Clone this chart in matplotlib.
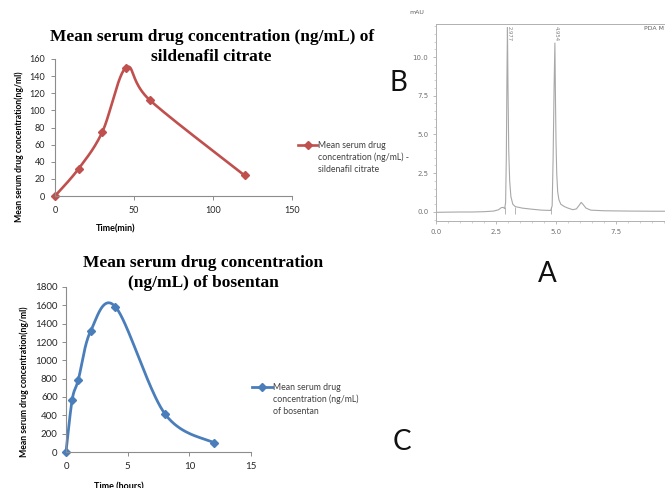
import numpy as np
import matplotlib
matplotlib.use("Agg")
import matplotlib.pyplot as plt
from matplotlib.lines import Line2D
from matplotlib.ticker import MultipleLocator

# ---------------- data ----------------
sil_time = [0, 15, 30, 45, 60, 120]
sil_conc = [0, 32, 75, 150, 112, 24]
sil_xticks = [0, 50, 100, 150]
sil_yticks = [0, 20, 40, 60, 80, 100, 120, 140, 160]

bos_time = [0, 0.5, 1, 2, 4, 8, 12]
bos_conc = [0, 570, 790, 1320, 1585, 420, 100]
bos_xticks = [0, 5, 10, 15]
bos_yticks = [0, 200, 400, 600, 800, 1000, 1200, 1400, 1600, 1800]

chrom_time = [0.0, 0.5, 1.0, 1.5, 2.0, 2.4, 2.6, 2.72, 2.8, 2.86, 2.9, 2.93, 2.955, 2.977,
              3.0, 3.03, 3.07, 3.12, 3.2, 3.3, 3.6, 4.0, 4.4, 4.78, 4.84, 4.88, 4.92, 4.954,
              4.98, 5.0, 5.03, 5.07, 5.12, 5.2, 5.35, 5.5, 5.7, 5.85, 5.95, 6.05, 6.12, 6.25,
              6.45, 7.0, 8.0, 9.0, 10.0, 11.0]
chrom_signal = [-0.02, -0.01, 0.0, 0.0, 0.02, 0.06, 0.14, 0.28, 0.3, 0.22, 0.6, 3.5, 8.5, 11.9,
                8.0, 4.0, 2.0, 1.0, 0.5, 0.35, 0.25, 0.18, 0.12, 0.1, 0.4, 3.5, 8.0, 10.9,
                7.0, 4.6, 2.5, 1.3, 0.8, 0.5, 0.35, 0.25, 0.15, 0.2, 0.4, 0.62, 0.5, 0.25,
                0.12, 0.08, 0.06, 0.05, 0.05, 0.05]
chrom_peaks = [2.977, 4.954]
chrom_peak_labels = ["2.977", "4.954"]
chrom_drops = [2.86, 3.3, 4.8]
chrom_xticks = [0.0, 2.5, 5.0, 7.5]
chrom_yticks = [0.0, 2.5, 5.0, 7.5, 10.0]

W, H = 665, 488
fig = plt.figure(figsize=(W / 100, H / 100), dpi=100)
fig.patch.set_facecolor("white")

SANS = ["Lato", "DejaVu Sans"]
SERIF = ["Liberation Serif", "DejaVu Serif"]
NARROW = ["Liberation Sans Narrow", "DejaVu Sans"]


def px_axes(l, t, r, b):
    return fig.add_axes([l / W, 1 - b / H, (r - l) / W, (b - t) / H])


def fx(x):
    return x / W


def fy(y):
    return 1 - y / H


def smooth(xs, ys, sx, sy, n=40):
    P = np.column_stack([np.asarray(xs, float) * sx, np.asarray(ys, float) * sy])
    P = np.vstack([P[0], P, P[-1]])
    t = np.linspace(0, 1, n)[:, None]
    out = []
    for i in range(1, len(P) - 2):
        p0, p1, p2, p3 = P[i - 1], P[i], P[i + 1], P[i + 2]
        c1 = p1 + (p2 - p0) / 6
        c2 = p2 - (p3 - p1) / 6
        seg = (1 - t) ** 3 * p1 + 3 * (1 - t) ** 2 * t * c1 + 3 * (1 - t) * t ** 2 * c2 + t ** 3 * p2
        out.append(seg)
    S = np.vstack(out)
    return S[:, 0] / sx, S[:, 1] / sy


def style_excel(ax, fs):
    for s in ["top", "right"]:
        ax.spines[s].set_visible(False)
    for s in ["left", "bottom"]:
        ax.spines[s].set_color("#8c8c8c")
        ax.spines[s].set_linewidth(0.8)
    ax.tick_params(axis="both", length=3, width=0.7, color="#8c8c8c", labelsize=fs,
                   labelcolor="#262626", direction="out")
    for lab in ax.get_xticklabels() + ax.get_yticklabels():
        lab.set_family(SANS)
    ax.set_facecolor("none")


# ---------------- sildenafil chart ----------------
ax1 = px_axes(55, 59, 292, 196)
x, y = smooth(sil_time, sil_conc, 237 / 150, 137 / 160)
red = "#c0504d"
ax1.plot(x, y, color=red, lw=1.9, solid_capstyle="round", clip_on=False)
ax1.plot(sil_time, sil_conc, ls="none", marker="D", ms=4.2, color=red, clip_on=False)
ax1.set_xlim(0, 150)
ax1.set_ylim(0, 160)
ax1.set_xticks(sil_xticks)
ax1.set_yticks(sil_yticks)
style_excel(ax1, 6.5)
ax1.tick_params(axis="x", pad=4)
ax1.tick_params(axis="y", pad=4)
fig.text(fx(212), fy(37), "Mean serum drug concentration (ng/mL) of", ha="center", va="center",
         family=SERIF, weight="bold", fontsize=12.5)
fig.text(fx(211), fy(57), "sildenafil citrate", ha="center", va="center",
         family=SERIF, weight="bold", fontsize=12.5)
fig.text(fx(19), fy(147), "Mean serum drug concentration(ng/ml)", rotation=90, ha="center",
         va="center", family=SANS, weight="bold", fontsize=6.2)
fig.text(fx(116), fy(229), "Time(min)", ha="center", va="center", family=SANS,
         weight="bold", fontsize=6.5)
fig.add_artist(Line2D([fx(298), fx(317)], [fy(145), fy(145)], color=red, lw=1.9,
                      transform=fig.transFigure))
fig.add_artist(Line2D([fx(307.5)], [fy(145)], color=red, marker="D", ms=4,
                      transform=fig.transFigure))
for i, s in enumerate(["Mean serum drug", "concentration (ng/mL) -", "sildenafil citrate"]):
    fig.text(fx(318), fy(145 + 12.3 * i), s, ha="left", va="center", family=SANS,
             fontsize=6.3, color="#404040")

# ---------------- bosentan chart ----------------
ax2 = px_axes(66, 287, 251, 452)
blue = "#4a7ebb"
x, y = smooth(bos_time, bos_conc, 185 / 15, 165 / 1800)
ax2.plot(x, y, color=blue, lw=2.0, solid_capstyle="round", clip_on=False)
ax2.plot(bos_time, bos_conc, ls="none", marker="D", ms=4.2, color=blue, clip_on=False)
ax2.set_xlim(0, 15)
ax2.set_ylim(0, 1800)
ax2.set_xticks(bos_xticks)
ax2.set_yticks(bos_yticks)
style_excel(ax2, 7)
ax2.tick_params(axis="x", pad=4)
ax2.tick_params(axis="y", pad=3)
fig.text(fx(203), fy(263), "Mean serum drug concentration", ha="center", va="center",
         family=SERIF, weight="bold", fontsize=12.5)
fig.text(fx(203), fy(283), "(ng/mL) of bosentan", ha="center", va="center",
         family=SERIF, weight="bold", fontsize=12.5)
fig.text(fx(24), fy(382), "Mean serum drug concentration(ng/ml)", rotation=90, ha="center",
         va="center", family=SANS, weight="bold", fontsize=6.2)
fig.text(fx(119), fy(482), "Time (hours)", ha="center", va="top", family=SANS,
         weight="bold", fontsize=6.5)
fig.add_artist(Line2D([fx(252), fx(272)], [fy(387), fy(387)], color=blue, lw=2.0,
                      transform=fig.transFigure))
fig.add_artist(Line2D([fx(262)], [fy(387)], color=blue, marker="D", ms=4,
                      transform=fig.transFigure))
for i, s in enumerate(["Mean serum drug", "concentration (ng/mL)", "of bosentan"]):
    fig.text(fx(273), fy(387 + 12.3 * i), s, ha="left", va="center", family=SANS,
             fontsize=6.3, color="#404040")

# ---------------- chromatogram ----------------
ax3 = px_axes(436, 24, 700, 221)
ax3.plot(chrom_time, chrom_signal, color="#a8a8a8", lw=0.8)
ax3.vlines(chrom_drops, -0.12, 0.3, color="#a8a8a8", lw=0.6)
ax3.set_xlim(0, 264 / 24)
ax3.set_ylim(-9 / 15.5, 188 / 15.5)
ax3.set_xticks(chrom_xticks)
ax3.set_yticks(chrom_yticks)
ax3.xaxis.set_minor_locator(MultipleLocator(0.5))
ax3.yaxis.set_minor_locator(MultipleLocator(0.5))
ax3.spines["right"].set_visible(False)
for s in ["left", "top", "bottom"]:
    ax3.spines[s].set_color("#b0b0b0")
    ax3.spines[s].set_linewidth(0.7)
ax3.tick_params(which="major", length=2.5, width=0.5, color="#a0a0a0", labelsize=5,
                labelcolor="#707070", pad=3)
ax3.tick_params(which="minor", length=1.5, width=0.4, color="#b0b0b0")
for lab in ax3.get_xticklabels() + ax3.get_yticklabels():
    lab.set_family(NARROW)
for p, lab in zip(chrom_peaks, chrom_peak_labels):
    ax3.text(p + 0.07, 12.0, lab, rotation=270, ha="center", va="top", fontsize=3.8,
             color="#808080", family=NARROW)
fig.text(fx(417), fy(13), "mAU", ha="center", va="center", fontsize=4.5, color="#606060",
         family=NARROW)
fig.text(fx(664), fy(28), "PDA M", ha="right", va="center", fontsize=4.5,
         color="#606060", family=NARROW)

# ---------------- panel letters ----------------
for s, (px, py) in {"B": (398, 83), "A": (547, 274), "C": (402, 442)}.items():
    fig.text(fx(px), fy(py), s, ha="center", va="center", fontsize=20, family=SANS,
             color="#111111")

fig.savefig("out.png", dpi=100)
